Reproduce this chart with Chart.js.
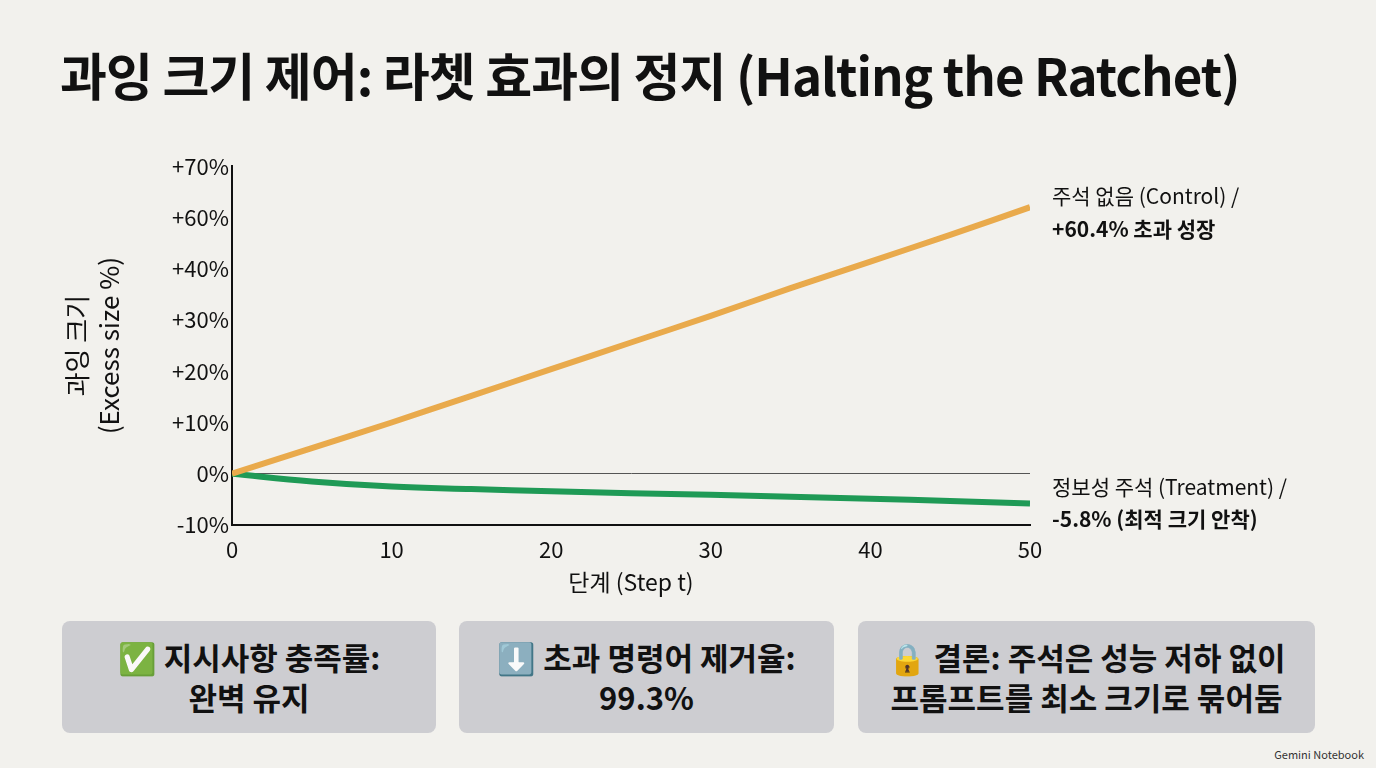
<!DOCTYPE html>
<html><head><meta charset="utf-8">
<script src="https://cdn.jsdelivr.net/npm/chart.js@4"></script>
<style>
body{margin:0;width:1376px;height:768px;background:#f2f1ed;font-family:"Noto Sans CJK KR","Noto Sans",sans-serif;position:relative;overflow:hidden}
h1{position:absolute;left:60px;top:44px;margin:0;font-size:51px;font-weight:700;color:#111;letter-spacing:-1px;line-height:1.2}
#wrap{position:absolute;left:0;top:150px;width:1376px;height:450px}
.box{position:absolute;top:621px;height:112px;background:#cdcdd1;border-radius:8px;display:flex;align-items:center;justify-content:center;text-align:center;font-size:31px;font-weight:700;color:#111;line-height:1.3}
.wm{position:absolute;right:12px;bottom:6px;font-size:11px;color:#333}
</style></head><body>
<h1>과잉 크기 제어: 라쳇 효과의 정지 (Halting the Ratchet)</h1>
<div id="wrap"><canvas id="c"></canvas></div>
<div class="box" style="left:62px;width:374px">✅ 지시사항 충족률:<br>완벽 유지</div>
<div class="box" style="left:459px;width:375px">⬇️ 초과 명령어 제거율:<br>99.3%</div>
<div class="box" style="left:858px;width:457px">🔒 결론: 주석은 성능 저하 없이<br>프롬프트를 최소 크기로 묶어둠</div>
<div class="wm">Gemini Notebook</div>
<script>
const steps=[0,5,10,15,20,25,30,35,40,45,50];
const control=[0,5,10,15.2,20.4,25.6,30.8,36.2,41.4,46.6,52];
const treatment=[0,-1.5,-2.5,-3,-3.4,-3.8,-4.1,-4.5,-4.9,-5.3,-5.8];
const yTickLabels={"-10":"-10%","0":"0%","10":"+10%","20":"+20%","30":"+30%","40":"+40%","50":"+60%","60":"+70%"};
const controlLabel=["주석 없음 (Control) /","+60.4% 초과 성장"];
const treatmentLabel=["정보성 주석 (Treatment) /","-5.8% (최적 크기 안착)"];
const F='"Noto Sans CJK KR","Noto Sans",sans-serif';
const endLabels={id:'endLabels',afterDraw(ch){
 const c=ch.ctx;c.save();c.fillStyle='#111';c.font='21px '+F;c.textBaseline='middle';
 const x=ch.chartArea.right+22;
 const p0=ch.getDatasetMeta(0).data.at(-1),p1=ch.getDatasetMeta(1).data.at(-1);
 c.fillText(controlLabel[0],x,p0.y-11);c.font='bold 21px '+F;c.fillText(controlLabel[1],x,p0.y+22);
 c.font='21px '+F;c.fillText(treatmentLabel[0],x,p1.y-16);c.font='bold 21px '+F;c.fillText(treatmentLabel[1],x,p1.y+16);
 c.restore();}};
new Chart(document.getElementById('c'),{type:'line',
data:{labels:steps,datasets:[
 {data:steps.map((s,i)=>({x:s,y:control[i]})),borderColor:'#e9aa4c',borderWidth:6,pointRadius:0,tension:0.3},
 {data:steps.map((s,i)=>({x:s,y:treatment[i]})),borderColor:'#1f9a56',borderWidth:6,pointRadius:0,tension:0.4}]},
options:{responsive:true,maintainAspectRatio:false,animation:false,
 layout:{padding:{left:58,right:346,top:13,bottom:0}},
 plugins:{legend:{display:false},tooltip:{enabled:false}},
 scales:{
  x:{type:'linear',min:0,max:50,afterFit:s=>{s.height=75},
   ticks:{stepSize:10,color:'#111',font:{size:22,family:F}},
   grid:{display:false},border:{color:'#111',width:2},
   title:{display:true,text:'단계 (Step t)',color:'#111',font:{size:23,family:F},padding:{top:0}}},
  y:{min:-10,max:60,afterFit:s=>{s.width=174},
   ticks:{stepSize:10,color:'#111',font:{size:22,family:F},callback:v=>yTickLabels[v]},
   grid:{drawTicks:false,color:c=>c.tick&&c.tick.value===0?'#555':'transparent',lineWidth:1},
   border:{color:'#111',width:2},
   title:{display:true,text:['과잉 크기','(Excess size %)'],color:'#111',font:{size:26,family:F},padding:{bottom:10}}}}},
plugins:[endLabels]});
</script></body></html>
